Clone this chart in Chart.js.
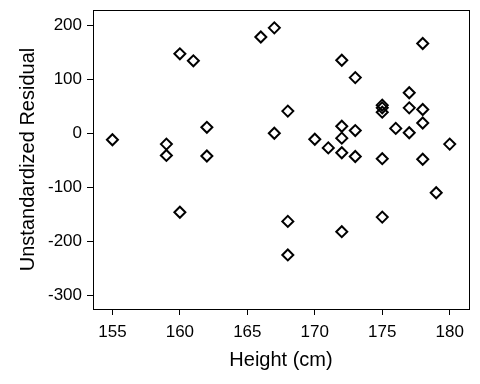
<!DOCTYPE html>
<html>
<head>
<meta charset="utf-8">
<script src="https://cdn.jsdelivr.net/npm/chart.js@4/dist/chart.umd.min.js"></script>
<style>
html,body{margin:0;padding:0;background:#fff;}
#wrap{width:480px;height:384px;}
</style>
</head>
<body>
<div id="wrap"><canvas id="c" width="480" height="384"></canvas></div>
<script>
const heights = [155,159,159,160,160,161,162,162,166,167,167,168,168,168,170,171,172,172,172,172,172,173,173,173,175,175,175,175,175,176,177,177,177,178,178,178,178,179,180];
const residuals = [-12,-20,-41,147,-146,134,11,-42,178,195,0,41,-163,-225,-11,-27,135,13,-9,-36,-182,103,5,-43,52,47,39,-47,-155,9,75,47,1,166,44,19,-48,-110,-20];
const xTicks = [155,160,165,170,175,180];
const yTicks = [-300,-200,-100,0,100,200];

const points = heights.map((h,i)=>({x:h,y:residuals[i]}));
const FONT = "'Liberation Sans', Arial, sans-serif";

const frame = {
  id:'frame',
  afterDatasetsDraw(chart){
    const a = chart.chartArea, ctx = chart.ctx;
    ctx.save();
    ctx.strokeStyle = '#000';
    ctx.lineWidth = 1;
    ctx.strokeRect(Math.round(a.left)+0.5, Math.round(a.top)+0.5, Math.round(a.right-a.left), Math.round(a.bottom-a.top));
    ctx.restore();
  }
};

new Chart(document.getElementById('c'), {
  type:'scatter',
  data:{datasets:[{
    data:points,
    pointStyle:'rectRot',
    pointRadius:5.5,
    pointBorderWidth:2,
    pointBorderColor:'#000',
    pointBackgroundColor:'rgba(255,255,255,0)',
    showLine:false
  }]},
  options:{
    responsive:false,
    animation:false,
    devicePixelRatio:1,
    layout:{padding:{left:0,top:10,right:11,bottom:0}},
    plugins:{legend:{display:false},tooltip:{enabled:false}},
    scales:{
      x:{
        type:'linear', min:153.56, max:181.43,
        afterBuildTicks(s){ s.ticks = xTicks.map(v=>({value:v})); },
        afterFit(s){ s.height = 75; s.paddingLeft = 0; s.paddingRight = 0; },
        grid:{drawOnChartArea:false, tickLength:6, color:'#000', tickColor:'#000'},
        border:{color:'#000', width:1},
        ticks:{color:'#000', font:{family:FONT,size:17}, padding:7, maxRotation:0},
        title:{display:true, text:'Height (cm)', color:'#000', font:{family:FONT,size:20}, padding:{top:0,bottom:12}}
      },
      y:{
        type:'linear', min:-325, max:228,
        afterBuildTicks(s){ s.ticks = yTicks.map(v=>({value:v})); },
        afterFit(s){ s.width = 93; s.paddingTop = 0; s.paddingBottom = 0; },
        grid:{drawOnChartArea:false, tickLength:6, color:'#000', tickColor:'#000'},
        border:{color:'#000', width:1},
        ticks:{color:'#000', font:{family:FONT,size:17}, padding:5},
        title:{display:true, text:'Unstandardized Residual', color:'#000', font:{family:FONT,size:20}, padding:{top:16,bottom:0}}
      }
    }
  },
  plugins:[frame]
});
</script>
</body>
</html>
